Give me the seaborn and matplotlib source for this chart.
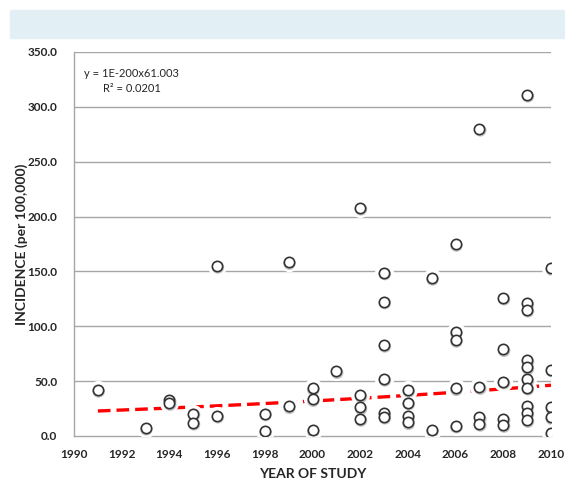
import numpy as np
import pandas as pd
import matplotlib
matplotlib.use("Agg")
import matplotlib.pyplot as plt
from matplotlib.patches import Rectangle
from matplotlib.transforms import ScaledTranslation
import seaborn as sns

sns.set_style("white")
plt.rcParams['font.family'] = ['Lato', 'DejaVu Sans']

# one entry per study (year, incidence per 100,000)
study_year = [1991,
              1993,
              1994, 1994,
              1995, 1995,
              1996, 1996,
              1998, 1998,
              1999, 1999,
              2000, 2000, 2000,
              2001,
              2002, 2002, 2002, 2002,
              2003, 2003, 2003, 2003, 2003, 2003,
              2004, 2004, 2004, 2004,
              2005, 2005,
              2006, 2006, 2006, 2006, 2006,
              2007, 2007, 2007, 2007,
              2008, 2008, 2008, 2008, 2008,
              2009, 2009, 2009, 2009, 2009, 2009, 2009, 2009, 2009, 2009,
              2010, 2010, 2010, 2010, 2010]
incidence = [42,
             7.5,
             33, 30,
             20.5, 12,
             18.5, 155,
             20.5, 4.5,
             27, 158.5,
             43.5, 33.5, 5.5,
             59,
             208, 37, 26, 15.5,
             149, 122.5, 83, 52, 21, 17.5,
             42, 30.5, 18, 12.5,
             144, 5.5,
             175, 95, 87.5, 43.5, 9.5,
             280, 44.5, 17, 11,
             126, 79, 49.5, 15.5, 10,
             311, 121, 115, 69, 62.5, 51.5, 44, 27.5, 21, 14.5,
             153, 60.5, 26, 17, 3]

x_ticks = list(range(1990, 2011, 2))
y_ticks = list(range(0, 351, 50))

df = pd.DataFrame({'year': study_year, 'incidence': incidence})

# power trendline like excel: fit log(y) against log(x)
b, log_a = np.polyfit(np.log(df.year), np.log(df.incidence), 1)
trend_x = np.linspace(df.year.min(), df.year.max(), 60)
trend = pd.DataFrame({'year': trend_x, 'fit': np.exp(log_a) * trend_x ** b})

fig = plt.figure(figsize=(5.65, 4.79), dpi=100)
fig.patches.append(Rectangle((10 / 565, 1 - 38 / 479), 555 / 565, 28 / 479,
                             transform=fig.transFigure, color='#e2f0f5', zorder=0))
ax = fig.add_axes([74 / 565, 1 - 436 / 479, 477 / 565, 384 / 479])

for yv in y_ticks[1:]:
    ax.axhline(yv, color='#a6a6a6', lw=1.0, zorder=1)

sns.lineplot(data=trend, x='year', y='fit', ax=ax, color='#ff0000', lw=2.4,
             dashes=False, zorder=2)
ax.lines[-1].set_dashes((3.8, 1.8))

# white halo that cuts the gridlines, then a soft shadow, then the markers
sns.scatterplot(data=df, x='year', y='incidence', ax=ax, s=190, marker='o',
                color='white', linewidth=0, zorder=2.5)
sns.scatterplot(data=df, x='year', y='incidence', ax=ax, s=55, marker='o',
                facecolor='none', edgecolor='#9a9a9a', linewidth=1.6, alpha=0.6,
                zorder=2.7)
shadow = ax.collections[-1]
shadow.set_offset_transform(ax.transData + ScaledTranslation(0.8 / 100, -1.5 / 100,
                                                             fig.dpi_scale_trans))
sns.scatterplot(data=df, x='year', y='incidence', ax=ax, s=55, marker='o',
                facecolor='white', edgecolor='#333333', linewidth=1.2, zorder=3)

ax.set_xlim(1990, 2010)
ax.set_ylim(0, 350)
ax.set_xticks(x_ticks)
ax.set_yticks(y_ticks)
ax.set_yticklabels([f'{v:.1f}' for v in y_ticks])
ax.tick_params(axis='both', direction='out', length=4, width=1, color='#a6a6a6',
               labelsize=8.5)
ax.tick_params(axis='y', pad=8)
ax.tick_params(axis='x', pad=5)
for lab in ax.get_xticklabels() + ax.get_yticklabels():
    lab.set_fontweight('bold')

for side in ['top', 'right']:
    ax.spines[side].set_visible(False)
for side in ['left', 'bottom']:
    ax.spines[side].set_color('#a6a6a6')
    ax.spines[side].set_linewidth(1.0)
    ax.spines[side].set_zorder(1)

ax.set_xlabel('YEAR OF STUDY', fontsize=10, fontweight='bold', labelpad=6)
ax.set_ylabel('INCIDENCE (per 100,000)', fontsize=10, fontweight='bold')
ax.yaxis.set_label_coords(-0.097, 0.5)

ax.text(0.022, 0.945, 'y = 1E-200x61.003', transform=ax.transAxes, fontsize=8,
        ha='left', va='center')
ax.text(0.06, 0.905, 'R² = 0.0201', transform=ax.transAxes, fontsize=8,
        ha='left', va='center')

fig.savefig('out.png', dpi=100)
